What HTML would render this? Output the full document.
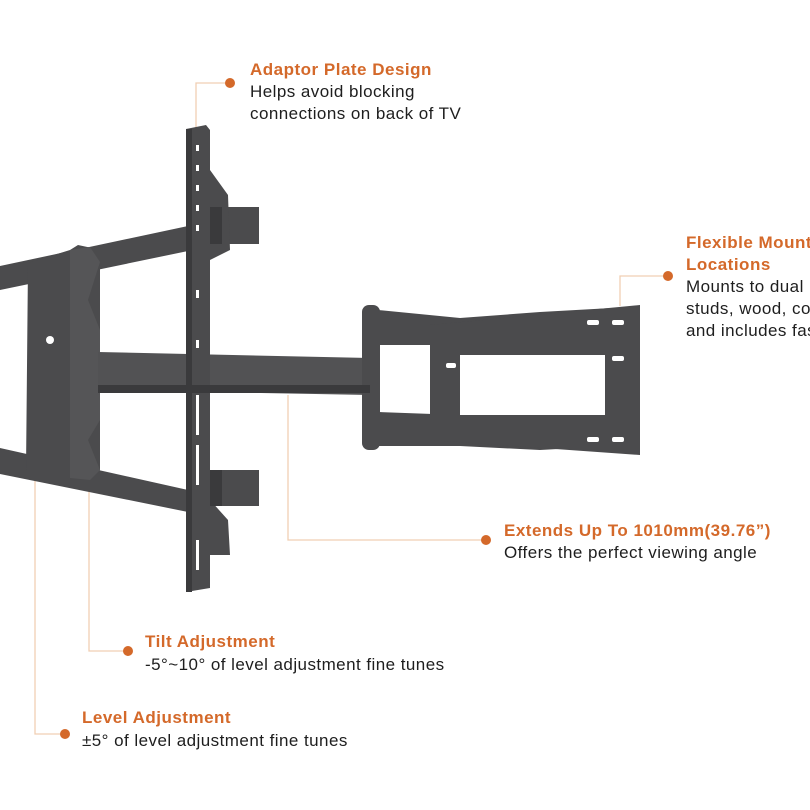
<!DOCTYPE html>
<html><head><style>
html,body{margin:0;padding:0;background:#fff;}
svg{display:block}
text{font-family:"Liberation Sans",sans-serif;font-size:17px;fill:#1e1e1e;letter-spacing:0.45px}
.h{fill:#d4692a;font-weight:bold;letter-spacing:0.5px}
</style></head><body>
<svg width="810" height="810" viewBox="0 0 810 810">
<rect width="810" height="810" fill="#fff"/>
<g stroke="#f0cfb3" stroke-width="1.3" fill="none">
<path d="M230 83 H196 V130"/>
<path d="M668 276 H620 V306"/>
<path d="M486 540 H288 V395"/>
<path d="M128 651 H89 V458"/>
<path d="M65 734 H35 V478"/>
</g>
<g fill="#d4692a">
<circle cx="230" cy="83" r="5"/>
<circle cx="668" cy="276" r="5"/>
<circle cx="486" cy="540" r="5"/>
<circle cx="128" cy="651" r="5"/>
<circle cx="65" cy="734" r="5"/>
</g>
<g fill="#4b4b4d">
<polygon points="0,266 188,226 188,251 0,290"/>
<polygon points="0,448 188,490 188,512 0,474"/>
<rect x="210" y="207" width="49" height="37"/>
<rect x="210" y="470" width="49" height="36"/>
<polygon points="28,263 70,250 78,245 92,248 100,255 100,470 92,478 30,478 26,470"/>
<polygon points="70,250 90,247 100,262 88,300 100,330 100,420 88,440 100,470 90,480 70,478" fill="#555557"/>
<polygon points="98,352 370,358 370,395 98,390" fill="#525254"/>
<polygon points="186,129 206,125 210,130 210,170 228,195 230,250 210,260 210,500 228,520 230,555 210,555 210,588 186,592"/>
<rect x="362" y="305" width="18" height="145" rx="7"/>
<polygon points="378,310 460,318 540,312 630,307 630,345 540,352 460,352 378,345"/>
<polygon points="378,412 460,415 540,412 630,412 630,445 540,450 460,446 378,446"/>
<polygon points="430,325 640,305 640,455 430,440"/>
</g>
<g fill="#3a3a3c">
<rect x="98" y="385" width="272" height="8"/>
<rect x="186" y="129" width="6" height="463"/>
<rect x="210" y="207" width="12" height="37"/>
<rect x="210" y="470" width="12" height="36"/>
</g>
<rect x="460" y="355" width="145" height="60" fill="#fff"/>
<rect x="380" y="345" width="50" height="67" fill="#fff"/>
<g fill="#fff">
<rect x="587" y="320" width="12" height="5" rx="2"/><rect x="612" y="320" width="12" height="5" rx="2"/>
<rect x="612" y="356" width="12" height="5" rx="2"/>
<rect x="446" y="363" width="10" height="5" rx="2"/>
<rect x="587" y="437" width="12" height="5" rx="2"/><rect x="612" y="437" width="12" height="5" rx="2"/>
<rect x="196" y="145" width="3" height="6"/><rect x="196" y="165" width="3" height="6"/>
<rect x="196" y="185" width="3" height="6"/><rect x="196" y="205" width="3" height="6"/>
<rect x="196" y="225" width="3" height="6"/><rect x="196" y="290" width="3" height="8"/>
<rect x="196" y="340" width="3" height="8"/><rect x="196" y="395" width="3" height="40"/>
<rect x="196" y="445" width="3" height="40"/><rect x="196" y="540" width="3" height="30"/>
<circle cx="50" cy="340" r="4"/>
</g>
<text class="h" x="250" y="75">Adaptor Plate Design</text>
<text x="250" y="97">Helps avoid blocking</text>
<text x="250" y="119">connections on back of TV</text>

<text class="h" x="686" y="248">Flexible Mounting</text>
<text class="h" x="686" y="270">Locations</text>
<text x="686" y="292">Mounts to dual</text>
<text x="686" y="314">studs, wood, concrete</text>
<text x="686" y="336">and includes fasteners</text>

<text class="h" x="504" y="536">Extends Up To 1010mm(39.76”)</text>
<text x="504" y="558">Offers the perfect viewing angle</text>

<text class="h" x="145" y="647">Tilt Adjustment</text>
<text x="145" y="670">-5°~10° of level adjustment fine tunes</text>

<text class="h" x="82" y="723">Level Adjustment</text>
<text x="82" y="746">±5° of level adjustment fine tunes</text>
</svg>
</body></html>
